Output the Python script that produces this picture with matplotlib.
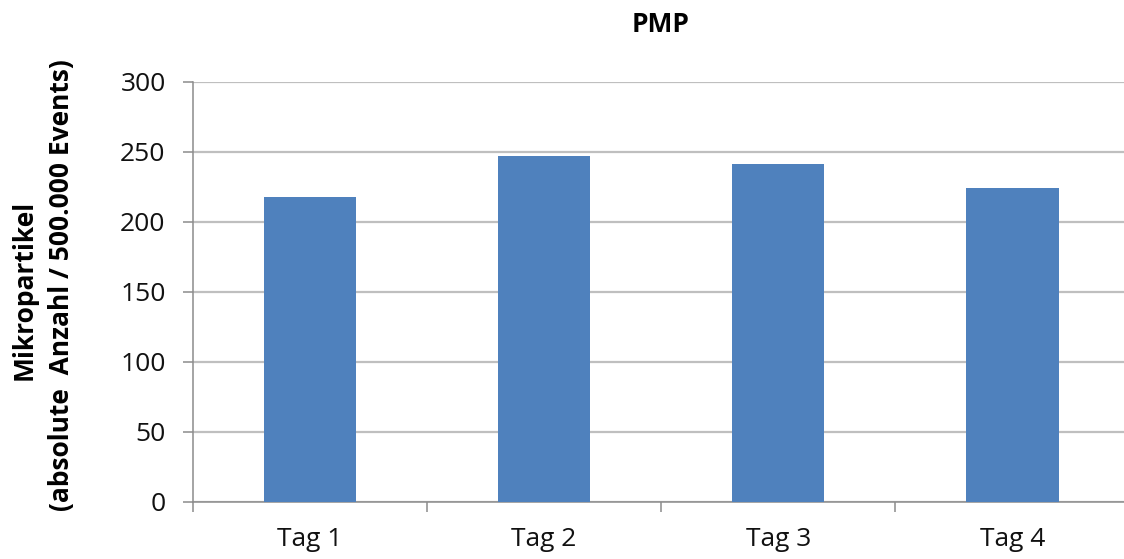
import matplotlib
matplotlib.use("Agg")
from matplotlib import pyplot as plt

plt.rcParams['font.family'] = ['Open Sans', 'DejaVu Sans']

# PMP counts per day
tage = ['Tag 1', 'Tag 2', 'Tag 3', 'Tag 4']
pmp = [218, 247, 241, 224]

y_ticks = [0, 50, 100, 150, 200, 250, 300]

bar_color = '#4F81BD'
grid_color = '#BFBFBF'
axis_color = '#8C8C8C'

fig = plt.figure(figsize=(11.24, 5.59), dpi=100)
ax = fig.add_axes([0.1714, 0.1025, 0.8335, 0.7513])

x = list(range(len(tage)))
ax.bar(x, pmp, width=0.395, color=bar_color, zorder=3)

ax.set_xlim(-0.5, len(tage) - 0.5)
ax.set_ylim(0, 300)
ax.set_yticks(y_ticks)
ax.yaxis.grid(True, color=grid_color, linewidth=1.6, zorder=0)
ax.tick_params(axis='y', length=7.5, width=1.1, color=axis_color,
               labelsize=19, pad=12, labelcolor='#111111')

# category boundaries get the tick marks, the labels sit at the centres
ax.set_xticks([i - 0.5 for i in range(len(tage) + 1)])
ax.set_xticklabels([])
ax.tick_params(axis='x', which='major', length=7, width=1.1, color=axis_color)
ax.set_xticks(x, minor=True)
ax.set_xticklabels(tage, minor=True)
ax.tick_params(axis='x', which='minor', length=0, labelsize=19, pad=18,
               labelcolor='#111111')

for side in ['top', 'right']:
    ax.spines[side].set_visible(False)
for side in ['left', 'bottom']:
    ax.spines[side].set_color(axis_color)
    ax.spines[side].set_linewidth(1.1)

fig.text(0.588, 1 - 25 / 559, 'PMP', ha='center', va='center',
         fontsize=19, fontweight='bold')
fig.text(24 / 1124, 1 - 290 / 559, 'Mikropartikel', rotation=90,
         ha='center', va='center', fontsize=19, fontweight='bold')
fig.text(62 / 1124, 1 - 285 / 559, '(absolute  Anzahl / 500.000 Events)',
         rotation=90, ha='center', va='center', fontsize=19,
         fontweight='bold')

fig.savefig('out.png', dpi=100)
